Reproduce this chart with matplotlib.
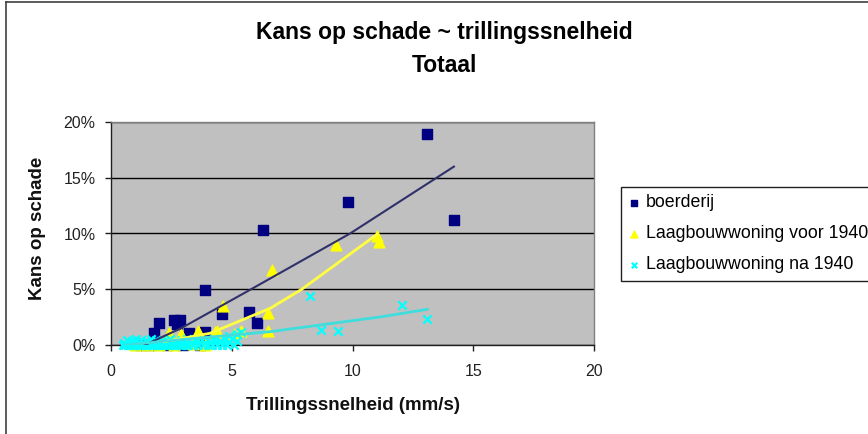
import matplotlib
matplotlib.use("Agg")
import matplotlib.pyplot as plt
from matplotlib.ticker import PercentFormatter
from matplotlib.lines import Line2D

plt.rcParams['font.family'] = ['Liberation Sans', 'DejaVu Sans']

# ---- data (percent values) ----
boer_x = [13.1, 9.8, 14.2, 6.3, 3.9, 5.7, 4.6, 6.05, 2.0, 2.6, 2.85, 2.75, 1.8, 3.25, 3.9,
          1.6, 2.3, 3.0, 3.7, 1.2]
boer_y = [18.9, 12.8, 11.2, 10.3, 4.9, 3.0, 2.8, 2.0, 2.0, 2.25, 2.25, 1.9, 1.1, 1.05, 1.15,
          0.0, 0.0, 0.0, 0.0, 0.0]

voor_x = [11.0, 11.1, 9.3, 6.65, 4.65, 6.5, 6.5, 5.4, 4.4, 4.3, 3.6, 2.4, 2.9, 3.9, 3.1,
          5.1, 1.5, 2.0, 2.6, 3.4, 1.0]
voor_y = [9.8, 9.2, 9.0, 6.7, 3.5, 2.9, 1.3, 1.25, 1.3, 1.2, 1.25, 1.1, 1.0, 0.0, 0.15,
          1.0, 0.0, 0.0, 0.0, 0.1, 0.0]

na_x = [12.05, 13.1, 8.25, 8.7, 9.4, 5.2, 4.9, 5.4, 5.0, 4.7,
        0.5, 0.6, 0.7, 0.8, 0.9, 1.0, 1.1, 1.2, 1.3, 1.4, 1.5, 1.6, 1.7, 1.8, 1.9, 2.0,
        2.1, 2.2, 2.3, 2.4, 2.5, 2.6, 2.7, 2.8, 2.9, 3.0, 3.1, 3.2, 3.4, 3.6, 3.8, 4.0,
        4.2, 4.4, 4.6, 4.8, 5.1,
        0.55, 0.75, 0.95, 1.15, 1.35, 1.55, 1.75, 1.95, 2.15, 2.35, 2.55, 2.75, 2.95,
        3.3, 3.5, 3.7, 3.9, 4.1, 4.3, 4.5, 4.9, 5.2,
        0.65, 0.85, 1.05, 1.25, 1.45, 1.65, 1.85, 2.05, 2.45, 2.65, 3.15, 3.55, 4.25]
na_y = [3.6, 2.3, 4.4, 1.35, 1.25, 1.0, 0.8, 1.2, 0.6, 0.5,
        0.0, 0.0, 0.0, 0.0, 0.0, 0.0, 0.0, 0.0, 0.0, 0.0, 0.0, 0.0, 0.0, 0.0, 0.0, 0.0,
        0.0, 0.0, 0.0, 0.0, 0.0, 0.0, 0.0, 0.0, 0.0, 0.0, 0.0, 0.0, 0.0, 0.0, 0.0, 0.0,
        0.0, 0.0, 0.0, 0.0, 0.0,
        0.2, 0.25, 0.2, 0.3, 0.2, 0.25, 0.3, 0.2, 0.25, 0.3, 0.2, 0.3, 0.25,
        0.2, 0.3, 0.25, 0.2, 0.3, 0.25, 0.35, 0.3, 0.4,
        0.45, 0.4, 0.5, 0.45, 0.4, 0.5, 0.45, 0.4, 0.5, 0.45, 0.5, 0.45, 0.5]

# trend lines
boer_trend_x = [1.4, 2.9, 5.8, 9.9, 14.2]
boer_trend_y = [0.0, 1.5, 5.0, 10.0, 16.0]
voor_trend_x = [2.2, 4.1, 6.6, 7.9, 11.0]
voor_trend_y = [0.3, 1.05, 3.3, 5.0, 9.9]
na_trend_x = [0.6, 3.0, 6.6, 11.1, 13.1]
na_trend_y = [0.0, 0.5, 1.2, 2.5, 3.2]

labels = ["boerderij", "Laagbouwwoning voor 1940", "Laagbouwwoning na 1940"]
x_ticks = [0, 5, 10, 15, 20]
y_ticks = [0, 5, 10, 15, 20]

W, H = 868, 434
fig = plt.figure(figsize=(W / 100, H / 100), dpi=100)
fig.patch.set_facecolor('white')

L, R, T, B = 111, 594, 122, 345
ax = fig.add_axes([L / W, 1 - B / H, (R - L) / W, (B - T) / H])
ax.set_facecolor('#C0C0C0')

ax.set_xlim(0, 20)
ax.set_ylim(0, 20)
ax.set_xticks(x_ticks)
ax.set_yticks(y_ticks)
ax.yaxis.set_major_formatter(PercentFormatter(xmax=100, decimals=0))
ax.grid(axis='y', color='black', linewidth=1.0)
ax.set_axisbelow(True)

for s in ['top', 'right']:
    ax.spines[s].set_color('#808080')
    ax.spines[s].set_linewidth(1.0)
for s in ['left', 'bottom']:
    ax.spines[s].set_color('#202020')
    ax.spines[s].set_linewidth(1.0)

ax.tick_params(axis='both', direction='out', length=4, width=1, color='#202020',
               labelsize=11.5, labelcolor='#222222')
ax.tick_params(axis='x', pad=10)
ax.tick_params(axis='y', pad=7)

ax.scatter(boer_x, boer_y, marker='s', s=42, color='#000080', zorder=3, label=labels[0],
           clip_on=False)
ax.scatter(voor_x, voor_y, marker='^', s=60, color='#FFFF00', zorder=3, label=labels[1],
           clip_on=False)
ax.scatter(na_x, na_y, marker='x', s=36, color='#00FFFF', linewidths=1.6, zorder=4,
           label=labels[2], clip_on=False)

ax.plot(boer_trend_x, boer_trend_y, color='#30306A', linewidth=1.5, zorder=5)
ax.plot(voor_trend_x, voor_trend_y, color='#FFFF40', linewidth=2.0, zorder=5)
ax.plot(na_trend_x, na_trend_y, color='#40DDDD', linewidth=2.0, zorder=5)

fig.text(444 / W, 1 - 33 / H, "Kans op schade ~ trillingssnelheid", ha='center', va='center',
         fontsize=16.5, fontweight='bold', color='black')
fig.text(444 / W, 1 - 65 / H, "Totaal", ha='center', va='center',
         fontsize=16.5, fontweight='bold', color='black')
fig.text(38 / W, 1 - 228 / H, "Kans op schade", rotation=90, ha='center', va='center',
         fontsize=13.5, fontweight='bold', color='#111111')
fig.text(353 / W, 1 - 405 / H, "Trillingssnelheid (mm/s)", ha='center', va='center',
         fontsize=13.5, fontweight='bold', color='#111111')

leg = ax.legend(loc='upper left', bbox_to_anchor=(621 / W, 1 - 187 / H),
                bbox_transform=fig.transFigure, borderaxespad=0, frameon=True,
                fancybox=False, edgecolor='#202020', facecolor='white', framealpha=1,
                fontsize=12.8, handlelength=0.6, handletextpad=0.4, labelspacing=0.78,
                borderpad=0.42, markerscale=0.65)
leg.get_frame().set_linewidth(1.0)

# outer chart border (top and left visible)
fig.add_artist(Line2D([6 / W, 1], [1 - 2 / H, 1 - 2 / H], transform=fig.transFigure,
                      color='#404040', linewidth=1.2))
fig.add_artist(Line2D([6 / W, 6 / W], [0, 1 - 2 / H], transform=fig.transFigure,
                      color='#404040', linewidth=1.2))

fig.savefig("out.png", dpi=100, facecolor='white')
